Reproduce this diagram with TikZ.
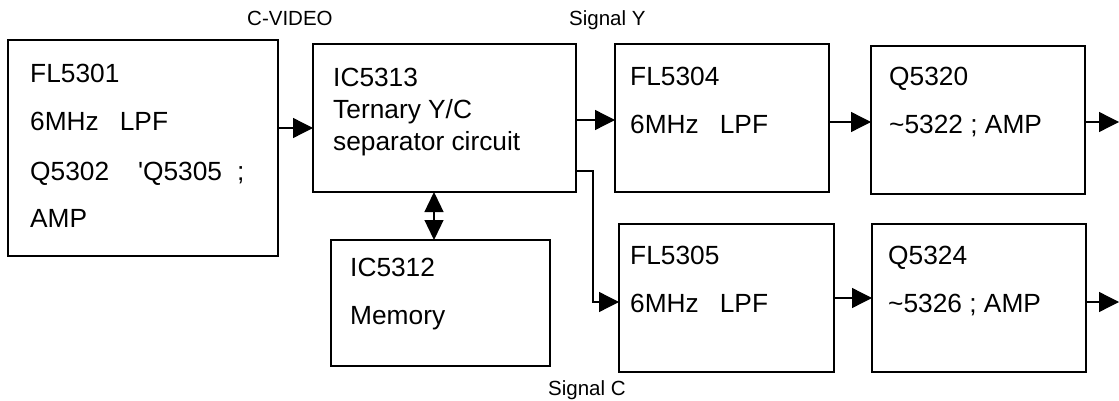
\documentclass[tikz,border=0pt]{standalone}
\usepackage{fontspec}
\setmainfont{Liberation Sans}
\usetikzlibrary{arrows.meta}
\begin{document}
\begin{tikzpicture}[x=1pt,y=-1pt,
  blk/.style={draw, line width=1.8pt, inner sep=0pt, outer sep=0pt, anchor=north west},
  txt/.style={anchor=base west, inner sep=0pt, font=\fontsize{26.3}{30}\selectfont},
  lbl/.style={anchor=base west, inner sep=0pt, font=\fontsize{20.5}{24}\selectfont},
  arr/.style={line width=1.3pt, -{Triangle[length=20pt,width=20pt]}},
  darr/.style={line width=1.3pt, {Triangle[length=20pt,width=19pt]}-{Triangle[length=20pt,width=19pt]}}]
\useasboundingbox (0,0) rectangle (1119,401);

% boxes
\node[blk, minimum width=270pt, minimum height=216pt] (fl1) at (8,40) {};
\node[blk, minimum width=263pt, minimum height=148pt] (ic13) at (313,44) {};
\node[blk, minimum width=214pt, minimum height=148pt] (fl4) at (615,44) {};
\node[blk, minimum width=214pt, minimum height=148pt] (q20) at (871,46) {};
\node[blk, minimum width=219pt, minimum height=126pt] (ic12) at (331,240) {};
\node[blk, minimum width=215pt, minimum height=148pt] (fl5) at (619,224) {};
\node[blk, minimum width=214pt, minimum height=148pt] (q24) at (872,224) {};

% texts
\node[txt] (t1a) at (30,83) {FL5301};
\node[txt] (t1b) at (30,131) {6MHz\hspace{21pt}LPF};
\node[txt] (t1c) at (30,180) {Q5302\hspace{29pt}\textquotesingle Q5305\hspace{15pt};};
\node[txt] (t1d) at (30,227) {AMP};

\node[txt] (t2a) at (333,87) {IC5313};
\node[txt] (t2b) at (333,119) {Ternary Y/C};
\node[txt] (t2c) at (333,150) {separator circuit};

\node[txt] (t3a) at (630,86) {FL5304};
\node[txt] (t3b) at (630,134) {6MHz\hspace{21pt}LPF};

\node[txt] (t4a) at (889,86) {Q5320};
\node[txt] (t4b) at (889,134) {\textasciitilde 5322 ; AMP};

\node[txt] (t5a) at (350,276) {IC5312};
\node[txt] (t5b) at (350,324) {Memory};

\node[txt] (t6a) at (630,264) {FL5305};
\node[txt] (t6b) at (630,312) {6MHz\hspace{21pt}LPF};

\node[txt] (t7a) at (888,264) {Q5324};
\node[txt] (t7b) at (888,312) {\textasciitilde 5326 ; AMP};

% labels
\node[lbl] (lcv) at (247,26) {C-VIDEO};
\node[lbl] (lsy) at (569,26) {Signal Y};
\node[lbl] (lsc) at (548,395) {Signal C};

% level coordinates
\coordinate (ya) at (0,128);
\coordinate (yb) at (0,120);
\coordinate (yc) at (0,171);
\coordinate (yd) at (0,302);
\coordinate (ye) at (0,122);
\coordinate (yf) at (0,298);
\coordinate (xb) at (593,0);
\coordinate (xm) at (434,0);
\coordinate (o1) at (1119,122);
\coordinate (o2) at (1119,302);

% connectors
\draw[arr] (fl1.east |- ya) -- (ic13.west |- ya);
\draw[arr] (ic13.east |- yb) -- (fl4.west |- yb);
\draw[arr, line join=miter] (ic13.east |- yc) -| (xb |- yd) -- (fl5.west |- yd);
\draw[arr] (fl4.east |- ye) -- (q20.west |- ye);
\draw[arr] (q20.east |- ye) -- (o1);
\draw[arr] (fl5.east |- yf) -- (q24.west |- yf);
\draw[arr] (q24.east |- yd) -- (o2);
\draw[darr] (ic13.south -| xm) -- (ic12.north -| xm);
\end{tikzpicture}
\end{document}
